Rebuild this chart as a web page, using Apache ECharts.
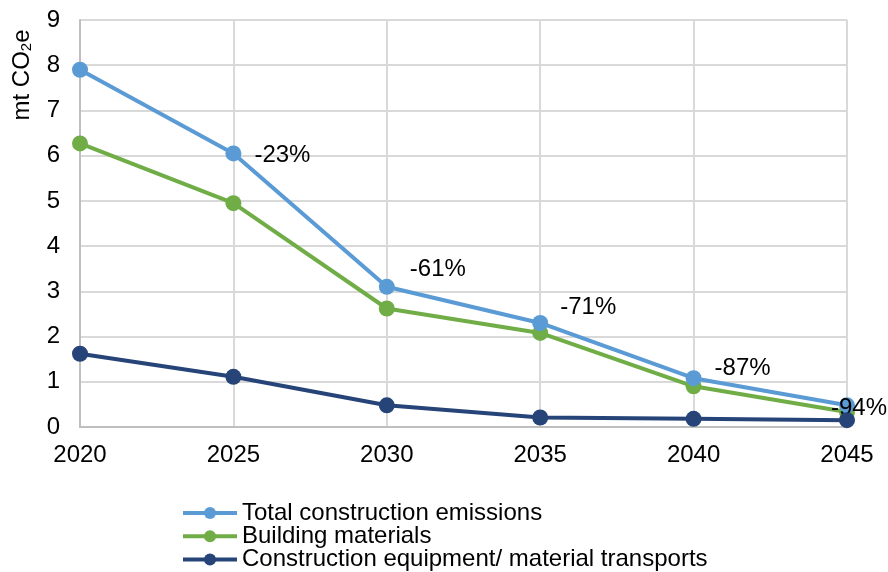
<!DOCTYPE html>
<html>
<head>
<meta charset="utf-8">
<script src="https://cdn.jsdelivr.net/npm/echarts@6/dist/echarts.min.js"></script>
<style>
html,body{margin:0;padding:0;background:#fff;}
#chart{width:888px;height:572px;}
</style>
</head>
<body>
<div id="chart"></div>
<script>
const years = ['2020', '2025', '2030', '2035', '2040', '2045'];
const totalEmissions = [7.9, 6.05, 3.1, 2.3, 1.08, 0.48];
const buildingMaterials = [6.27, 4.95, 2.62, 2.08, 0.9, 0.33];
const equipmentTransports = [1.62, 1.11, 0.48, 0.21, 0.18, 0.15];
const changeLabels = ['', '-23%', '-61%', '-71%', '-87%', '-94%'];
const seriesNames = ['Total construction emissions', 'Building materials', 'Construction equipment/ material transports'];

const labelOffsets = [[0, 0], [8, 2], [10, -17], [7, -16], [8, -10], [-29, 3]];
const FONT = '"Liberation Sans", Arial, sans-serif';

const chart = echarts.init(document.getElementById('chart'));

const totalData = totalEmissions.map((v, i) => ({
  value: v,
  label: {
    show: changeLabels[i] !== '',
    formatter: changeLabels[i],
    position: 'right',
    offset: labelOffsets[i]
  }
}));

chart.setOption({
  animation: false,
  textStyle: { fontFamily: FONT },
  grid: { left: 80, right: 41, top: 20, bottom: 145, containLabel: false },
  xAxis: {
    type: 'category',
    data: years,
    boundaryGap: false,
    axisLine: { lineStyle: { color: '#bfbfbf', width: 2 } },
    axisTick: { show: false },
    splitLine: { show: true, lineStyle: { color: '#d9d9d9', width: 2 } },
    axisLabel: { color: '#000', fontSize: 24, margin: 16, fontFamily: FONT }
  },
  yAxis: {
    type: 'value',
    min: 0, max: 9, interval: 1,
    axisLine: { show: true, lineStyle: { color: '#bfbfbf', width: 2 } },
    axisTick: { show: false },
    splitLine: { lineStyle: { color: '#d9d9d9', width: 2 } },
    axisLabel: { color: '#000', fontSize: 24, margin: 20, fontFamily: FONT }
  },
  legend: {
    orient: 'vertical',
    left: 181,
    top: 501,
    height: 120,
    padding: 0,
    itemWidth: 54,
    itemHeight: 15,
    itemGap: -0.7,
    lineStyle: { width: 4 },
    textStyle: { color: '#000', fontSize: 24, lineHeight: 23, fontFamily: FONT },
    data: seriesNames
  },
  graphic: [{
    type: 'text',
    x: 22, y: 75,
    rotation: Math.PI / 2,
    style: {
      text: 'mt CO{sub|2}e',
      fill: '#000',
      font: '24px ' + FONT,
      align: 'center',
      verticalAlign: 'middle',
      rich: {
        sub: { fontSize: 15, fontFamily: FONT, fill: '#000', padding: [10, 0, 0, 0] }
      }
    }
  }],
  series: [
    {
      name: seriesNames[0], type: 'line', data: totalData,
      symbol: 'circle', symbolSize: 16,
      lineStyle: { color: '#5B9BD5', width: 4 },
      itemStyle: { color: '#5B9BD5' },
      label: { color: '#000', fontSize: 24, fontFamily: FONT },
      z: 3
    },
    {
      name: seriesNames[1], type: 'line', data: buildingMaterials,
      symbol: 'circle', symbolSize: 16,
      lineStyle: { color: '#70AD47', width: 4 },
      itemStyle: { color: '#70AD47' },
      z: 2
    },
    {
      name: seriesNames[2], type: 'line', data: equipmentTransports,
      symbol: 'circle', symbolSize: 16,
      lineStyle: { color: '#264478', width: 4 },
      itemStyle: { color: '#264478' },
      z: 4
    }
  ]
});
</script>
</body>
</html>
